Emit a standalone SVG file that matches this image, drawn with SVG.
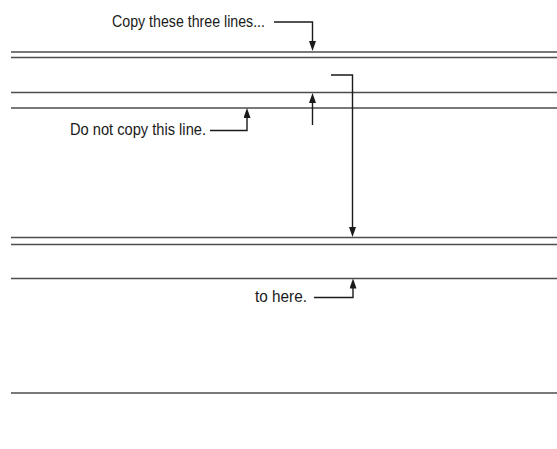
<svg xmlns="http://www.w3.org/2000/svg" width="557" height="449" viewBox="0 0 557 449">
<style>
.rule{stroke:#4d4d4d;stroke-width:1.4;fill:none}
.lead{stroke:#1a1a1a;stroke-width:1.4;fill:none}
.lbl{font-family:"Liberation Sans",Arial,sans-serif;font-size:16px;fill:#1a1a1a}
</style>
<defs>
<marker id="ah" markerUnits="userSpaceOnUse" markerWidth="10" markerHeight="7" refX="5" refY="3.5" orient="auto">
<path d="M0,0 L10,3.5 L0,7 z" fill="#1a1a1a"/>
</marker>
</defs>
<rect width="557" height="449" fill="#fff"/>
<g id="rules">
<line class="rule" x1="11" y1="52" x2="557" y2="52"/>
<line class="rule" x1="11" y1="57.5" x2="557" y2="57.5"/>
<line class="rule" x1="11" y1="92.5" x2="557" y2="92.5"/>
<line class="rule" x1="11" y1="108" x2="557" y2="108"/>
<line class="rule" x1="11" y1="237.5" x2="557" y2="237.5"/>
<line class="rule" x1="11" y1="244.5" x2="557" y2="244.5"/>
<line class="rule" x1="11" y1="278.5" x2="557" y2="278.5"/>
<line class="rule" x1="11" y1="393" x2="557" y2="393"/>
</g>
<g id="label-copy">
<text class="lbl" x="112" y="26.5" textLength="153" lengthAdjust="spacingAndGlyphs">Copy these three lines...</text>
</g>
<g id="label-donot">
<text class="lbl" x="70" y="135" textLength="136" lengthAdjust="spacingAndGlyphs">Do not copy this line.</text>
</g>
<g id="label-tohere">
<text class="lbl" x="255" y="302" textLength="52" lengthAdjust="spacingAndGlyphs">to here.</text>
</g>
<g id="connectors">
<path class="lead" d="M274,22 H312.5 V46" marker-end="url(#ah)"/>
<path class="lead" d="M312.5,125 V98" marker-end="url(#ah)"/>
<path class="lead" d="M331,75 H352.5 V232" marker-end="url(#ah)"/>
<path class="lead" d="M210,130.5 H247 V113" marker-end="url(#ah)"/>
<path class="lead" d="M314,297.5 H353 V283.5" marker-end="url(#ah)"/>
</g>
</svg>
